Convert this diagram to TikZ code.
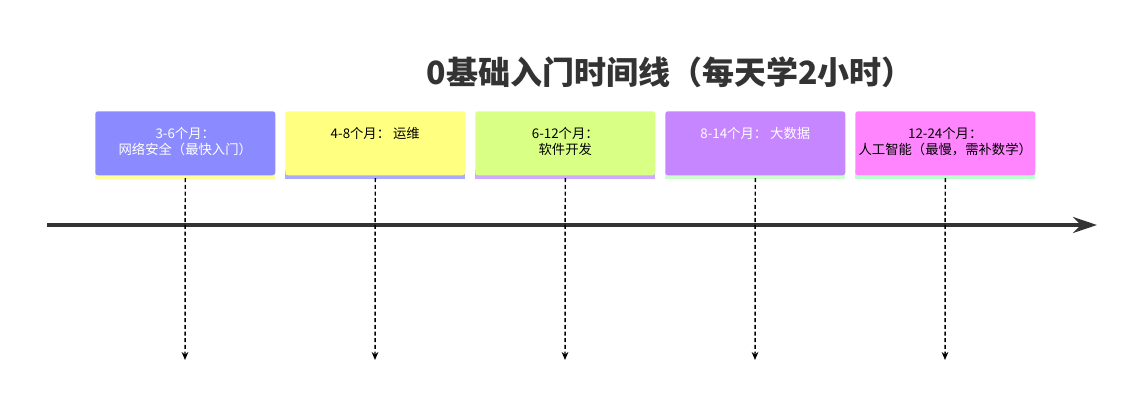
\documentclass[tikz,border=0pt]{standalone}
\usepackage{fontspec}
\setmainfont{Noto Sans CJK SC}
\usetikzlibrary{arrows.meta}
\definecolor{ink}{HTML}{333333}
\tikzset{
  phase/.style={rectangle,rounded corners=2pt,minimum width=135pt,minimum height=48pt,anchor=north west,inner sep=0pt},
  phasetext/.style={align=center,font=\fontsize{10}{12}\selectfont,anchor=north},
  drop/.style={densely dashed,line width=1.1pt,-{Stealth[length=6pt,width=5pt]}}
}
\begin{document}
\begin{tikzpicture}[x=0.75pt,y=-0.75pt]
\useasboundingbox (0,0) rectangle (1140,406);
\node[font=\fontsize{24}{28}\bfseries\selectfont,text=ink] (title) at (670,72) {0基础入门时间线（每天学2小时）};
\coordinate (start) at (47,225);
\coordinate (end) at (1097,225);
\draw[line width=2.8pt,ink,-{Stealth[length=18pt,width=12pt]}] (start) -- (end);
% phase boxes
\foreach \i/\fc/\sc/\txtcol/\txt in {
  0/8B8BFF/FFFF99/white/{3-6个月：\\网络安全（最快入门）},
  1/FFFF80/AAAAFF/black/{4-8个月： 运维},
  2/DAFF85/CFA8FF/black/{6-12个月：\\软件开发},
  3/C586FF/CCFFCC/white/{8-14个月： 大数据},
  4/FF85FF/BBFFCC/black/{12-24个月：\\人工智能（最慢，需补数学）}} {
  \definecolor{fillc}{HTML}{\fc}
  \definecolor{stripc}{HTML}{\sc}
  \path[fill=stripc] (95+190*\i,170) rectangle (275+190*\i,179);
  \node[phase,fill=fillc] (box\i) at (95+190*\i,111) {};
  \node[phasetext,text=\txtcol] (label\i) at ([yshift=-9pt]box\i.north) {\txt};
  \coordinate (tip\i) at (185+190*\i,360);
  \draw[drop] ([yshift=-2pt]box\i.south) -- (tip\i);
}
\end{tikzpicture}
\end{document}
